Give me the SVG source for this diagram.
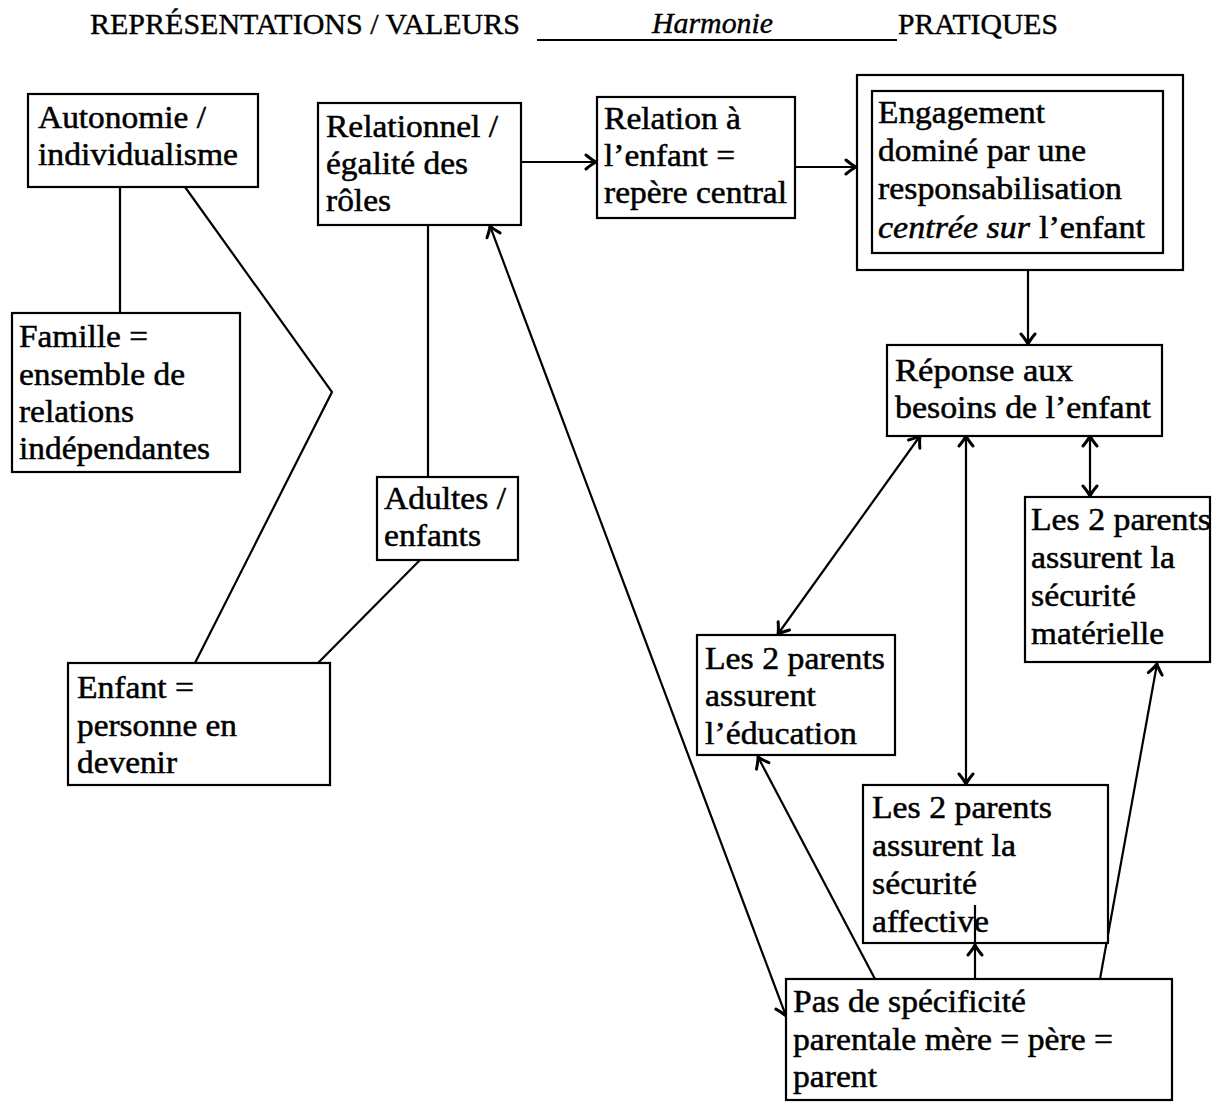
<svg xmlns="http://www.w3.org/2000/svg" width="1218" height="1102" viewBox="0 0 1218 1102">
<style>
.t{font-family:"Liberation Serif","Times New Roman",serif;font-size:31px;fill:#000;stroke:#000;stroke-width:0.5;}
.h{font-family:"Liberation Serif","Times New Roman",serif;font-size:30px;fill:#000;stroke:#000;stroke-width:0.4;}
.i{font-style:italic;}
.box{fill:#fff;stroke:#000;stroke-width:2.2;}
.c{fill:none;stroke:#000;stroke-width:2.2;}
</style>
<defs>
<marker id="ah" viewBox="-14 -9 16 18" markerWidth="16" markerHeight="18" refX="0" refY="0" orient="auto-start-reverse" markerUnits="userSpaceOnUse">
<path d="M-10,-7 Q-4,-2 0,0 Q-4,2 -10,7" fill="none" stroke="#000" stroke-width="3" stroke-linecap="round"/>
</marker>
</defs>
<rect width="1218" height="1102" fill="#fff"/>

<g id="header">
<text class="h" x="90" y="34" textLength="430" lengthAdjust="spacingAndGlyphs">REPRÉSENTATIONS / VALEURS</text>
<line x1="537" y1="40" x2="897" y2="40" stroke="#000" stroke-width="2"/>
<text class="h i" x="652" y="33" textLength="121" lengthAdjust="spacingAndGlyphs">Harmonie</text>
<text class="h" x="898" y="34" textLength="160" lengthAdjust="spacingAndGlyphs">PRATIQUES</text>
</g>

<g id="connectors">
<line class="c" x1="120" y1="187" x2="120" y2="313"/>
<polyline class="c" points="185,187 332,392 195,663"/>
<line class="c" x1="428" y1="225" x2="428" y2="477"/>
<line class="c" x1="420" y1="560" x2="318" y2="663"/>
<line class="c" x1="521" y1="162" x2="596" y2="162" marker-end="url(#ah)"/>
<line class="c" x1="795" y1="167" x2="856" y2="167" marker-end="url(#ah)"/>
<line class="c" x1="1028" y1="270" x2="1028" y2="344" marker-end="url(#ah)"/>
<line class="c" x1="490" y1="226" x2="786" y2="1016" marker-start="url(#ah)" marker-end="url(#ah)"/>
<line class="c" x1="920" y1="436" x2="778" y2="634" marker-start="url(#ah)" marker-end="url(#ah)"/>
<line class="c" x1="966" y1="436" x2="966" y2="784" marker-start="url(#ah)" marker-end="url(#ah)"/>
<line class="c" x1="1090" y1="436" x2="1090" y2="496" marker-start="url(#ah)" marker-end="url(#ah)"/>
<line class="c" x1="875" y1="979" x2="758" y2="757" marker-end="url(#ah)"/>
<line class="c" x1="1100" y1="979" x2="1157" y2="664" marker-end="url(#ah)"/>
</g>

<g id="n-autonomie">
<rect class="box" x="28" y="94" width="230" height="93"/>
<text class="t" x="38" y="128" textLength="168" lengthAdjust="spacingAndGlyphs">Autonomie /</text>
<text class="t" x="38" y="165" textLength="200" lengthAdjust="spacingAndGlyphs">individualisme</text>
</g>

<g id="n-famille">
<rect class="box" x="12" y="313" width="228" height="159"/>
<text class="t" x="19" y="347" textLength="129" lengthAdjust="spacingAndGlyphs">Famille =</text>
<text class="t" x="19" y="385" textLength="166" lengthAdjust="spacingAndGlyphs">ensemble de</text>
<text class="t" x="19" y="422" textLength="115" lengthAdjust="spacingAndGlyphs">relations</text>
<text class="t" x="19" y="459" textLength="191" lengthAdjust="spacingAndGlyphs">indépendantes</text>
</g>

<g id="n-enfant">
<rect class="box" x="68" y="663" width="262" height="122"/>
<text class="t" x="77" y="698" textLength="117" lengthAdjust="spacingAndGlyphs">Enfant =</text>
<text class="t" x="77" y="736" textLength="160" lengthAdjust="spacingAndGlyphs">personne en</text>
<text class="t" x="77" y="773" textLength="100" lengthAdjust="spacingAndGlyphs">devenir</text>
</g>

<g id="n-relationnel">
<rect class="box" x="318" y="103" width="203" height="122"/>
<text class="t" x="326" y="137" textLength="172" lengthAdjust="spacingAndGlyphs">Relationnel /</text>
<text class="t" x="326" y="174" textLength="142" lengthAdjust="spacingAndGlyphs">égalité des</text>
<text class="t" x="326" y="211" textLength="65" lengthAdjust="spacingAndGlyphs">rôles</text>
</g>

<g id="n-adultes">
<rect class="box" x="377" y="477" width="141" height="83"/>
<text class="t" x="384" y="509" textLength="122" lengthAdjust="spacingAndGlyphs">Adultes /</text>
<text class="t" x="384" y="546" textLength="97" lengthAdjust="spacingAndGlyphs">enfants</text>
</g>

<g id="n-relation">
<rect class="box" x="597" y="97" width="198" height="121"/>
<text class="t" x="604" y="129" textLength="137" lengthAdjust="spacingAndGlyphs">Relation à</text>
<text class="t" x="604" y="166" textLength="131" lengthAdjust="spacingAndGlyphs">l’enfant =</text>
<text class="t" x="604" y="203" textLength="183" lengthAdjust="spacingAndGlyphs">repère central</text>
</g>

<g id="n-engagement">
<rect class="box" x="857" y="75" width="326" height="195"/>
<rect class="box" x="872" y="91" width="291" height="162"/>
<text class="t" x="878" y="123" textLength="167" lengthAdjust="spacingAndGlyphs">Engagement</text>
<text class="t" x="878" y="161" textLength="208" lengthAdjust="spacingAndGlyphs">dominé par une</text>
<text class="t" x="878" y="199" textLength="244" lengthAdjust="spacingAndGlyphs">responsabilisation</text>
<text class="t i" x="878" y="238" textLength="152" lengthAdjust="spacingAndGlyphs">centrée sur</text>
<text class="t" x="1039" y="238" textLength="106" lengthAdjust="spacingAndGlyphs">l’enfant</text>
</g>

<g id="n-reponse">
<rect class="box" x="887" y="345" width="275" height="91"/>
<text class="t" x="895" y="381" textLength="178" lengthAdjust="spacingAndGlyphs">Réponse aux</text>
<text class="t" x="895" y="418" textLength="256" lengthAdjust="spacingAndGlyphs">besoins de l’enfant</text>
</g>

<g id="n-materielle">
<rect class="box" x="1025" y="497" width="185" height="165"/>
<text class="t" x="1031" y="530" textLength="180" lengthAdjust="spacingAndGlyphs">Les 2 parents</text>
<text class="t" x="1031" y="568" textLength="144" lengthAdjust="spacingAndGlyphs">assurent la</text>
<text class="t" x="1031" y="606" textLength="105" lengthAdjust="spacingAndGlyphs">sécurité</text>
<text class="t" x="1031" y="644" textLength="133" lengthAdjust="spacingAndGlyphs">matérielle</text>
</g>

<g id="n-education">
<rect class="box" x="697" y="635" width="198" height="120"/>
<text class="t" x="705" y="669" textLength="180" lengthAdjust="spacingAndGlyphs">Les 2 parents</text>
<text class="t" x="705" y="706" textLength="111" lengthAdjust="spacingAndGlyphs">assurent</text>
<text class="t" x="705" y="744" textLength="152" lengthAdjust="spacingAndGlyphs">l’éducation</text>
</g>

<g id="n-affective">
<rect class="box" x="863" y="785" width="245" height="158"/>
<text class="t" x="872" y="818" textLength="180" lengthAdjust="spacingAndGlyphs">Les 2 parents</text>
<text class="t" x="872" y="856" textLength="144" lengthAdjust="spacingAndGlyphs">assurent la</text>
<text class="t" x="872" y="894" textLength="105" lengthAdjust="spacingAndGlyphs">sécurité</text>
<text class="t" x="872" y="932" textLength="117" lengthAdjust="spacingAndGlyphs">affective</text>
</g>

<g id="n-pas">
<rect class="box" x="786" y="979" width="386" height="121"/>
<text class="t" x="793" y="1012" textLength="233" lengthAdjust="spacingAndGlyphs">Pas de spécificité</text>
<text class="t" x="793" y="1050" textLength="320" lengthAdjust="spacingAndGlyphs">parentale mère = père =</text>
<text class="t" x="793" y="1087" textLength="84" lengthAdjust="spacingAndGlyphs">parent</text>
</g>

<g id="connectors-over">
<line class="c" x1="975" y1="979" x2="975" y2="945" marker-end="url(#ah)"/>
<line class="c" x1="975" y1="945" x2="975" y2="905"/>
</g>
</svg>
